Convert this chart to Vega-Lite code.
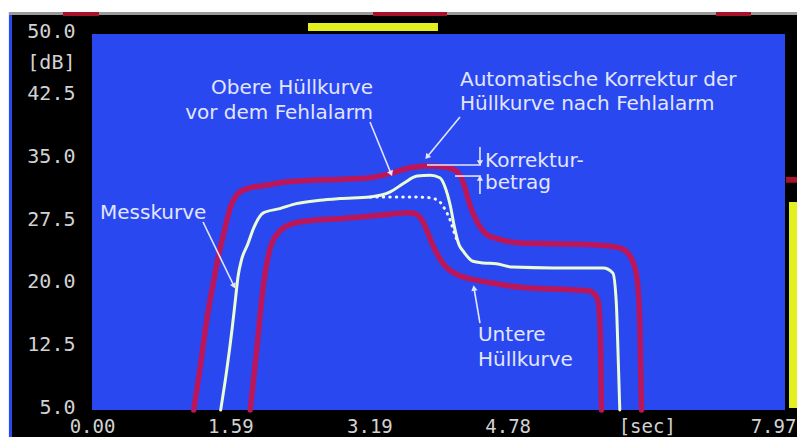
{
  "$schema": "https://vega.github.io/schema/vega-lite/v6.json",
  "autosize": {"type": "none"},
  "width": 693,
  "height": 376,
  "padding": {"left": 92, "top": 34, "right": 12, "bottom": 27},
  "background": "#000000",
  "config": {
    "view": {"stroke": null},
    "axis": {"grid": false, "domain": false, "ticks": false, "title": null,
             "labelFont": "DejaVu Sans Mono", "labelFontSize": 20, "labelColor": "#d2d2d2",
             "labelOverlap": false, "labelBound": false, "labelFlush": false}
  },
  "datasets": {
    "screen": [
      {"part": "paper", "t0": -1.06, "t1": 8.11, "lo": 52.63, "hi": 54.1},
      {"part": "paper", "t0": -1.06, "t1": -0.955, "lo": 1.7, "hi": 54.1},
      {"part": "edge", "t0": -0.955, "t1": -0.92, "lo": 1.7, "hi": 52.63},
      {"part": "strip", "t0": -0.955, "t1": 8.11, "lo": 52.27, "hi": 52.63},
      {"part": "mark", "t0": -0.334, "t1": 0.08, "lo": 52.15, "hi": 52.63},
      {"part": "mark", "t0": 3.232, "t1": 4.083, "lo": 52.15, "hi": 52.63},
      {"part": "mark", "t0": 7.177, "t1": 7.579, "lo": 52.15, "hi": 52.63},
      {"part": "plot", "t0": 0, "t1": 7.97, "lo": 5, "hi": 50},
      {"part": "lamp", "t0": 2.484, "t1": 3.979, "lo": 50.36, "hi": 51.32},
      {"part": "lamp", "t0": 8.016, "t1": 8.11, "lo": 5.24, "hi": 29.89},
      {"part": "mark", "t0": 7.98, "t1": 8.11, "lo": 32.2, "hi": 32.9}
    ],
    "curves": [
      {"curve": "upper", "t": 1.17, "db": 5.0},
      {"curve": "upper", "t": 1.24, "db": 9.8},
      {"curve": "upper", "t": 1.32, "db": 15.8},
      {"curve": "upper", "t": 1.4, "db": 20.5},
      {"curve": "upper", "t": 1.47, "db": 24.2},
      {"curve": "upper", "t": 1.51, "db": 25.9},
      {"curve": "upper", "t": 1.59, "db": 29.2},
      {"curve": "upper", "t": 1.68, "db": 30.9},
      {"curve": "upper", "t": 1.82, "db": 31.6},
      {"curve": "upper", "t": 2.01, "db": 31.9},
      {"curve": "upper", "t": 2.16, "db": 32.2},
      {"curve": "upper", "t": 2.54, "db": 32.5},
      {"curve": "upper", "t": 2.85, "db": 32.6},
      {"curve": "upper", "t": 3.2, "db": 32.8},
      {"curve": "upper", "t": 3.46, "db": 33.4},
      {"curve": "upper", "t": 3.66, "db": 34.0},
      {"curve": "upper", "t": 3.85, "db": 34.2},
      {"curve": "upper", "t": 4.04, "db": 34.1},
      {"curve": "upper", "t": 4.2, "db": 33.5},
      {"curve": "upper", "t": 4.27, "db": 32.2},
      {"curve": "upper", "t": 4.35, "db": 29.4},
      {"curve": "upper", "t": 4.43, "db": 27.5},
      {"curve": "upper", "t": 4.54, "db": 26.0},
      {"curve": "upper", "t": 4.66, "db": 25.5},
      {"curve": "upper", "t": 4.92, "db": 25.0},
      {"curve": "upper", "t": 5.3, "db": 24.9},
      {"curve": "upper", "t": 5.88, "db": 24.7},
      {"curve": "upper", "t": 6.07, "db": 24.4},
      {"curve": "upper", "t": 6.17, "db": 23.7},
      {"curve": "upper", "t": 6.26, "db": 21.3},
      {"curve": "upper", "t": 6.3, "db": 15.4},
      {"curve": "upper", "t": 6.32, "db": 5.0},

      {"curve": "measure", "t": 1.48, "db": 5.0},
      {"curve": "measure", "t": 1.55, "db": 9.8},
      {"curve": "measure", "t": 1.61, "db": 14.6},
      {"curve": "measure", "t": 1.645, "db": 17.8},
      {"curve": "measure", "t": 1.68, "db": 21.0},
      {"curve": "measure", "t": 1.72, "db": 23.0},
      {"curve": "measure", "t": 1.79, "db": 24.8},
      {"curve": "measure", "t": 1.86, "db": 26.8},
      {"curve": "measure", "t": 1.97, "db": 28.6},
      {"curve": "measure", "t": 2.16, "db": 29.1},
      {"curve": "measure", "t": 2.35, "db": 29.7},
      {"curve": "measure", "t": 2.62, "db": 30.1},
      {"curve": "measure", "t": 2.85, "db": 30.3},
      {"curve": "measure", "t": 3.2, "db": 30.5},
      {"curve": "measure", "t": 3.43, "db": 31.1},
      {"curve": "measure", "t": 3.58, "db": 32.1},
      {"curve": "measure", "t": 3.74, "db": 33.0},
      {"curve": "measure", "t": 3.89, "db": 33.1},
      {"curve": "measure", "t": 4.0, "db": 32.8},
      {"curve": "measure", "t": 4.06, "db": 31.7},
      {"curve": "measure", "t": 4.12, "db": 29.5},
      {"curve": "measure", "t": 4.17, "db": 26.8},
      {"curve": "measure", "t": 4.22, "db": 24.8},
      {"curve": "measure", "t": 4.27, "db": 24.0},
      {"curve": "measure", "t": 4.38, "db": 22.8},
      {"curve": "measure", "t": 4.5, "db": 22.6},
      {"curve": "measure", "t": 4.65, "db": 22.5},
      {"curve": "measure", "t": 4.84, "db": 22.1},
      {"curve": "measure", "t": 5.3, "db": 22.0},
      {"curve": "measure", "t": 5.88, "db": 22.0},
      {"curve": "measure", "t": 5.99, "db": 21.4},
      {"curve": "measure", "t": 6.03, "db": 17.8},
      {"curve": "measure", "t": 6.05, "db": 11.8},
      {"curve": "measure", "t": 6.07, "db": 5.0},

      {"curve": "lower", "t": 1.82, "db": 5.0},
      {"curve": "lower", "t": 1.89, "db": 11.8},
      {"curve": "lower", "t": 1.97, "db": 19.8},
      {"curve": "lower", "t": 2.05, "db": 24.4},
      {"curve": "lower", "t": 2.16, "db": 26.4},
      {"curve": "lower", "t": 2.31, "db": 27.3},
      {"curve": "lower", "t": 2.55, "db": 27.7},
      {"curve": "lower", "t": 2.85, "db": 27.9},
      {"curve": "lower", "t": 3.31, "db": 28.3},
      {"curve": "lower", "t": 3.66, "db": 28.6},
      {"curve": "lower", "t": 3.77, "db": 28.1},
      {"curve": "lower", "t": 3.85, "db": 26.5},
      {"curve": "lower", "t": 3.92, "db": 24.7},
      {"curve": "lower", "t": 4.04, "db": 22.5},
      {"curve": "lower", "t": 4.2, "db": 21.2},
      {"curve": "lower", "t": 4.35, "db": 20.7},
      {"curve": "lower", "t": 4.6, "db": 20.2},
      {"curve": "lower", "t": 4.92, "db": 19.7},
      {"curve": "lower", "t": 5.5, "db": 19.4},
      {"curve": "lower", "t": 5.7, "db": 19.3},
      {"curve": "lower", "t": 5.8, "db": 18.6},
      {"curve": "lower", "t": 5.83, "db": 17.3},
      {"curve": "lower", "t": 5.85, "db": 12.0},
      {"curve": "lower", "t": 5.86, "db": 5.0},

      {"curve": "before", "t": 3.2, "db": 30.5},
      {"curve": "before", "t": 3.31, "db": 30.5},
      {"curve": "before", "t": 3.5, "db": 30.5},
      {"curve": "before", "t": 3.7, "db": 30.5},
      {"curve": "before", "t": 3.89, "db": 30.4},
      {"curve": "before", "t": 4.0, "db": 29.9},
      {"curve": "before", "t": 4.06, "db": 29.0},
      {"curve": "before", "t": 4.12, "db": 27.7},
      {"curve": "before", "t": 4.16, "db": 26.4},
      {"curve": "before", "t": 4.2, "db": 25.2}
    ],
    "pointers": [
      {"t": 3.197, "db": 39.47, "t2": 3.439, "db2": 33.3, "heading": 158},
      {"t": 4.232, "db": 40.07, "t2": 3.853, "db2": 35.28, "heading": 220},
      {"t": 1.277, "db": 27.5, "t2": 1.633, "db2": 19.84, "heading": 154},
      {"t": 4.462, "db": 15.41, "t2": 4.393, "db2": 19.6, "heading": 350},
      {"t": 4.462, "db": 36.48, "t2": 4.462, "db2": 34.56, "heading": 180},
      {"t": 4.462, "db": 30.85, "t2": 4.462, "db2": 32.77, "heading": 0},
      {"t": 3.853, "db": 34.32, "t2": 4.473, "db2": 34.32, "heading": null},
      {"t": 4.175, "db": 33.0, "t2": 4.473, "db2": 33.0, "heading": null}
    ],
    "notes": [
      {"text": "Obere Hüllkurve", "t": 3.232, "db": 43.48, "side": "right"},
      {"text": "vor dem Fehlalarm", "t": 3.232, "db": 40.54, "side": "right"},
      {"text": "Automatische Korrektur der", "t": 4.232, "db": 44.49, "side": "left"},
      {"text": "Hüllkurve nach Fehlalarm", "t": 4.232, "db": 41.59, "side": "left"},
      {"text": "Korrektur-", "t": 4.52, "db": 34.8, "side": "left"},
      {"text": "betrag", "t": 4.52, "db": 32.17, "side": "left"},
      {"text": "Messkurve", "t": 0.092, "db": 28.58, "side": "left"},
      {"text": "Untere", "t": 4.439, "db": 13.98, "side": "left"},
      {"text": "Hüllkurve", "t": 4.439, "db": 10.98, "side": "left"}
    ]
  },
  "layer": [
    {
      "data": {"name": "screen"},
      "mark": {"type": "rect"},
      "encoding": {
        "x": {"field": "t0", "type": "quantitative", "title": null,
              "scale": {"domain": [0, 7.97], "nice": false, "zero": false},
              "axis": {"values": [0, 1.59, 3.19, 4.78, 6.38, 7.97], "labelPadding": 7, "labelFontSize": 19, "zindex": 1,
                       "grid": false, "domain": false, "ticks": false,
                       "labelOffset": {"condition": {"test": "datum.value > 7.5", "value": -12}, "value": 0},
                       "labelExpr": "abs(datum.value - 6.38) < 0.005 ? '[sec]' : format(datum.value, '.2f')"}},
        "x2": {"field": "t1"},
        "y": {"field": "lo", "type": "quantitative", "title": null,
              "scale": {"domain": [5, 50], "nice": false, "zero": false},
              "axis": {"values": [5, 12.5, 20, 27.5, 35, 42.5, 46.25, 50], "labelPadding": 17, "labelOffset": -3, "zindex": 1,
                       "grid": false, "domain": false, "ticks": false,
                       "labelExpr": "datum.value == 46.25 ? '[dB]' : format(datum.value, '.1f')"}},
        "y2": {"field": "hi"},
        "color": {"field": "part", "type": "nominal", "legend": null,
                  "scale": {"domain": ["paper", "edge", "strip", "mark", "plot", "lamp"],
                            "range": ["#ffffff", "#2a48f0", "#9a9a9a", "#a5122a", "#2a48f0", "#e4ef1f"]}}
      }
    },
    {
      "data": {"name": "curves"},
      "transform": [{"filter": "datum.curve == 'upper' || datum.curve == 'lower'"}],
      "mark": {"type": "line", "color": "#bc165a", "strokeWidth": 5.5, "strokeCap": "round", "strokeJoin": "round", "interpolate": "monotone"},
      "encoding": {
        "x": {"field": "t", "type": "quantitative", "title": null},
        "y": {"field": "db", "type": "quantitative", "title": null},
        "detail": {"field": "curve"}
      }
    },
    {
      "data": {"name": "curves"},
      "transform": [{"filter": "datum.curve == 'measure'"}],
      "mark": {"type": "line", "color": "#eafcd2", "strokeWidth": 3, "strokeCap": "round", "strokeJoin": "round", "interpolate": "monotone"},
      "encoding": {
        "x": {"field": "t", "type": "quantitative", "title": null},
        "y": {"field": "db", "type": "quantitative", "title": null}
      }
    },
    {
      "data": {"name": "curves"},
      "transform": [{"filter": "datum.curve == 'before'"}],
      "mark": {"type": "line", "color": "#f2f4ff", "strokeWidth": 3, "strokeCap": "round", "strokeDash": [0.5, 6], "interpolate": "monotone"},
      "encoding": {
        "x": {"field": "t", "type": "quantitative", "title": null},
        "y": {"field": "db", "type": "quantitative", "title": null}
      }
    },
    {
      "data": {"name": "pointers"},
      "mark": {"type": "rule", "color": "#e2e6ff", "strokeWidth": 1.6},
      "encoding": {
        "x": {"field": "t", "type": "quantitative", "title": null},
        "y": {"field": "db", "type": "quantitative", "title": null},
        "x2": {"field": "t2"},
        "y2": {"field": "db2"}
      }
    },
    {
      "data": {"name": "pointers"},
      "transform": [{"filter": "isValid(datum.heading)"}],
      "mark": {"type": "point", "shape": "triangle-up", "filled": true, "color": "#e2e6ff", "size": 40, "opacity": 1},
      "encoding": {
        "x": {"field": "t2", "type": "quantitative", "title": null},
        "y": {"field": "db2", "type": "quantitative", "title": null},
        "angle": {"field": "heading", "type": "quantitative", "scale": null}
      }
    },
    {
      "data": {"name": "notes"},
      "transform": [{"filter": "datum.side == 'right'"}],
      "mark": {"type": "text", "align": "right", "baseline": "middle", "font": "DejaVu Sans", "fontSize": 20, "color": "#e2e6ff"},
      "encoding": {
        "x": {"field": "t", "type": "quantitative", "title": null},
        "y": {"field": "db", "type": "quantitative", "title": null},
        "text": {"field": "text"}
      }
    },
    {
      "data": {"name": "notes"},
      "transform": [{"filter": "datum.side == 'left'"}],
      "mark": {"type": "text", "align": "left", "baseline": "middle", "font": "DejaVu Sans", "fontSize": 20, "color": "#e2e6ff"},
      "encoding": {
        "x": {"field": "t", "type": "quantitative", "title": null},
        "y": {"field": "db", "type": "quantitative", "title": null},
        "text": {"field": "text"}
      }
    }
  ]
}
